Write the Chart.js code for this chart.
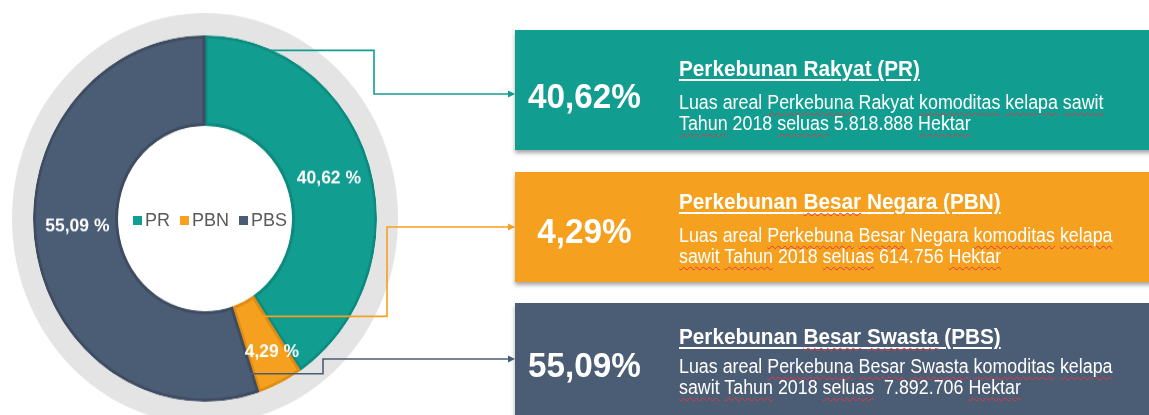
<!DOCTYPE html>
<html>
<head>
<meta charset="utf-8">
<script src="https://cdn.jsdelivr.net/npm/chart.js@4.4.0/dist/chart.umd.min.js"></script>
<style>
  html, body { margin: 0; padding: 0; background: #fff; }
  #page { position: relative; width: 1149px; height: 415px; overflow: hidden; font-family: "Liberation Sans", Arial, sans-serif; }
  #donutWrap { position: absolute; left: 12px; top: 13px; width: 386px; height: 386px; transform: scaleY(1.065); transform-origin: 0 0; }
  #links { position: absolute; left: 0; top: 0; pointer-events: none; }
  #legend { position: absolute; left: 110px; top: 209px; width: 200px; height: 22px; display: flex; justify-content: center; align-items: center; font-size: 18px; color: #595959; white-space: nowrap; }
  #legend span.item { display: flex; align-items: center; margin: 0 5px; }
  #legend i { display: inline-block; width: 9px; height: 9px; margin-right: 3px; }
  .box { position: absolute; left: 515px; width: 640px; color: #fff; box-shadow: 0 3px 4px rgba(0,0,0,0.35);
         font-family: "Liberation Sans", Arial, sans-serif; }
  /* slightly condensed face in the original: squeeze the regular one a little */
  .pct { position: absolute; left: 0; width: 139px; text-align: center; font-weight: bold; font-size: 35px; line-height: 35px; transform: scaleX(0.95); transform-origin: 50% 50%; }
  .title { position: absolute; left: 164px; font-weight: bold; font-size: 22.5px; line-height: 22.5px; text-decoration: underline; text-decoration-thickness: 1.5px; text-underline-offset: 3px; white-space: pre; transform: scaleX(0.922); transform-origin: 0 50%; }
  .desc { position: absolute; left: 164px; font-size: 19.5px; line-height: 21px; white-space: pre; transform: scaleX(0.915); transform-origin: 0 50%; }
  .sp { text-decoration: underline wavy #e0393e; text-decoration-thickness: 1px; text-underline-offset: 3px; }
</style>
</head>
<body>
<div id="page">
  <div id="donutWrap"><canvas id="donut"></canvas></div>
  <canvas id="links" width="1149" height="415"></canvas>
  <div id="legend"></div>
</div>
<script>
// data
const segLabels = ['PR', 'PBN', 'PBS'];
const shares = [40.62, 4.29, 55.09];
const names = ['Perkebunan Rakyat (PR)', 'Perkebunan Besar Negara (PBN)', 'Perkebunan Besar Swasta (PBS)'];
const descLines = [
  ['Luas areal Perkebuna Rakyat komoditas kelapa sawit', 'Tahun 2018 seluas 5.818.888 Hektar'],
  ['Luas areal Perkebuna Besar Negara komoditas kelapa', 'sawit Tahun 2018 seluas 614.756 Hektar'],
  ['Luas areal Perkebuna Besar Swasta komoditas kelapa', 'sawit Tahun 2018 seluas  7.892.706 Hektar']
];
const spellWords = ['Perkebuna', 'Besar', 'Swasta', 'komoditas', 'kelapa', 'sawit', 'Tahun', 'seluas', 'Hektar'];

// look
const fills = ['#129d91', '#f5a11f', '#4b5c75'];
const edges = ['#0d8a7e', '#e08b12', '#3e4c61'];
const ringGray = '#e3e4e3';
const STRETCH = 1.065;
const WRAP = { x: 12, y: 13 };
const boxes = [
  { top: 30, h: 120, pct: 48, title: 28, desc: 62 },
  { top: 172, h: 110, pct: 41, title: 19, desc: 53 },
  { top: 303, h: 114, pct: 44, title: 23, desc: 53 }
];
// label placement inside the ring: fraction along the arc, fraction across the ring
const labelPlace = [[0.5, 0.5], [0.37, 0.65], [0.53, 0.48]];
// connector: start (fraction along arc, fraction across ring), elbow x, arrow y
const linkPlace = [
  { f: 0.155, r: 0.99, ex: 374, ay: 94 },
  { f: 0.12, r: 0.25, ex: 387, ay: 227 },
  { f: 0.012, r: 0.76, ex: 323, ay: 359 }
];
const BOX_X = 515;

const fmt = v => v.toFixed(2).replace('.', ',');

const markSpell = (txt) => txt.split(/( +)/).map(w =>
  spellWords.includes(w) ? `<span class="sp">${w}</span>` : w).join('');

// legend in the hole
document.getElementById('legend').innerHTML = segLabels.map((l, i) =>
  `<span class="item"><i style="background:${fills[i]}"></i>${l}</span>`).join('');

// right-hand boxes
const page = document.getElementById('page');
boxes.forEach((b, i) => {
  const d = document.createElement('div');
  d.className = 'box';
  d.style.top = b.top + 'px';
  d.style.height = b.h + 'px';
  d.style.background = fills[i];
  d.innerHTML =
    `<div class="pct" style="top:${b.pct}px">${fmt(shares[i])}%</div>` +
    `<div class="title" style="top:${b.title}px">${markSpell(names[i])}</div>` +
    `<div class="desc" style="top:${b.desc}px">${descLines[i].map(markSpell).join('<br>')}</div>`;
  page.appendChild(d);
});

const arcPoint = (arc, f, rf) => {
  const a = arc.startAngle + f * (arc.endAngle - arc.startAngle);
  const r = arc.innerRadius + rf * (arc.outerRadius - arc.innerRadius);
  return { x: arc.x + Math.cos(a) * r, y: arc.y + Math.sin(a) * r };
};

const sliceLabels = {
  id: 'sliceLabels',
  afterDatasetsDraw: (chart) => {
    const ctx = chart.ctx;
    chart.getDatasetMeta(1).data.forEach((arc, i) => {
      const p = arcPoint(arc, labelPlace[i][0], labelPlace[i][1]);
      ctx.save();
      ctx.translate(p.x, p.y);
      ctx.scale(1, 1 / STRETCH);
      ctx.font = 'bold 17.5px "Liberation Sans", Arial, sans-serif';
      ctx.fillStyle = '#fff';
      ctx.textAlign = 'center';
      ctx.textBaseline = 'middle';
      ctx.fillText(fmt(shares[i]) + ' %', 0, 0);
      ctx.restore();
    });
  }
};

const connectors = {
  id: 'connectors',
  afterDraw: (chart) => {
    const ctx = document.getElementById('links').getContext('2d');
    ctx.clearRect(0, 0, 1149, 415);
    chart.getDatasetMeta(1).data.forEach((arc, i) => {
      const lp = linkPlace[i];
      const p = arcPoint(arc, lp.f, lp.r);
      const sx = WRAP.x + p.x, sy = WRAP.y + p.y * STRETCH;
      ctx.save();
      ctx.strokeStyle = fills[i];
      ctx.fillStyle = fills[i];
      ctx.lineWidth = 1.6;
      ctx.beginPath();
      ctx.moveTo(sx, sy);
      ctx.lineTo(lp.ex, sy);
      ctx.lineTo(lp.ex, lp.ay);
      ctx.lineTo(BOX_X - 5, lp.ay);
      ctx.stroke();
      ctx.beginPath();
      ctx.moveTo(BOX_X, lp.ay);
      ctx.lineTo(BOX_X - 7, lp.ay - 3.5);
      ctx.lineTo(BOX_X - 7, lp.ay + 3.5);
      ctx.closePath();
      ctx.fill();
      ctx.restore();
    });
  }
};

new Chart(document.getElementById('donut'), {
  type: 'doughnut',
  data: {
    labels: segLabels,
    datasets: [
      { data: [1], backgroundColor: ringGray, borderWidth: 0, weight: 21 },
      { data: shares, backgroundColor: fills, borderColor: edges, borderWidth: 2.5, borderAlign: 'inner', weight: 85 }
    ]
  },
  options: {
    responsive: true,
    maintainAspectRatio: false,
    animation: false,
    events: [],
    cutout: 87,
    layout: { padding: 0 },
    plugins: { legend: { display: false }, tooltip: { enabled: false } }
  },
  plugins: [sliceLabels, connectors]
});
</script>
</body>
</html>
